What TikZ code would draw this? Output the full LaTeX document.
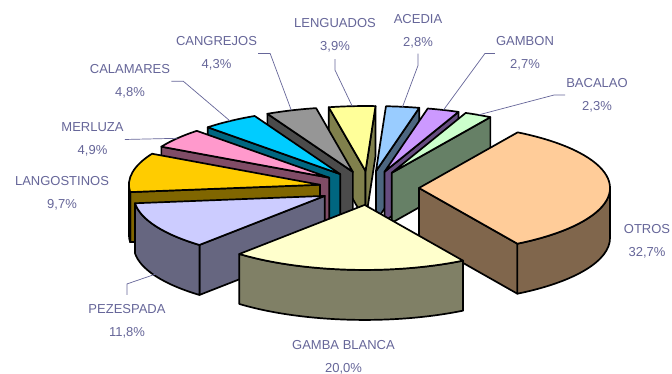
\documentclass[tikz,border=0pt]{standalone}
\usepackage{fontspec}
\setmainfont{Liberation Sans}
\definecolor{labelblue}{HTML}{666699}
\definecolor{acedia}{HTML}{99CCFF}
\definecolor{gambon}{HTML}{CC99FF}
\definecolor{bacalao}{HTML}{CCFFCC}
\definecolor{otros}{HTML}{FFCC99}
\definecolor{gamba}{HTML}{FFFFCC}
\definecolor{pezespada}{HTML}{CCCCFF}
\definecolor{langostinos}{HTML}{FFCC00}
\definecolor{merluza}{HTML}{FF99CC}
\definecolor{calamares}{HTML}{00CCFF}
\definecolor{cangrejos}{HTML}{969696}
\definecolor{lenguados}{HTML}{FFFF99}
\tikzset{face/.style={draw=black, line width=1.7pt, line join=round}}
\tikzset{lbl/.style={font=\fontsize{13}{23}\selectfont, text=labelblue, align=center, inner sep=1pt}}
\tikzset{lead/.style={draw=labelblue, line width=0.7pt}}
% top of a slice, radial side face, outer rim face
\newcommand{\pietop}[3]{%
  \filldraw[face, fill=#3] (0,0) -- (#1:191 and 65)
    arc[start angle=#1, end angle=#2, x radius=191, y radius=65] -- cycle;}
\newcommand{\pieface}[2]{%
  \filldraw[face, fill=#2] (0,0) -- (#1:191 and 65) -- ++(0,-50) -- (0,-50) -- cycle;}
\newcommand{\pierim}[3]{%
  \filldraw[face, fill=#3] (#1:191 and 65)
    arc[start angle=#1, end angle=#2, x radius=191, y radius=65] -- ++(0,-50)
    arc[start angle=#2, end angle=#1, x radius=191, y radius=65] -- cycle;}

\begin{document}
\begin{tikzpicture}[x=1pt, y=1pt]
  \fill[white] (0,0) rectangle (672,374);
  \useasboundingbox (0,0) rectangle (672,374);
  \begin{scope}[shift={(369,186)}]
    % back slices first
    \begin{scope}[shift={(94:50 and 17)}]
      \pieface{101.1}{lenguados!50!black}
      \pieface{87}{lenguados!50!black}
      \pietop{101.1}{87}{lenguados}
      \coordinate (leng-p) at (94:191 and 65);
    \end{scope}
    \begin{scope}[shift={(82:50 and 17)}]
      \pieface{76.9}{acedia!50!black}
      \pietop{87}{76.9}{acedia}
      \coordinate (acedia-p) at (82:191 and 65);
    \end{scope}
    \begin{scope}[shift={(72:50 and 17)}]
      \pieface{67.2}{gambon!50!black}
      \pietop{76.9}{67.2}{gambon}
      \coordinate (gambon-p) at (72:191 and 65);
    \end{scope}
    \begin{scope}[shift={(108.8:50 and 17)}]
      \pieface{116.6}{cangrejos!50!black}
      \pietop{116.6}{101.1}{cangrejos}
      \coordinate (cang-p) at (108.8:191 and 65);
    \end{scope}
    \begin{scope}[shift={(63:50 and 17)}]
      \pieface{58.9}{bacalao!50!black}
      \pietop{67.2}{58.9}{bacalao}
      \coordinate (bacalao-p) at (63:191 and 65);
    \end{scope}
    \begin{scope}[shift={(125.2:50 and 17)}]
      \pieface{133.9}{calamares!50!black}
      \pietop{133.9}{116.6}{calamares}
      \coordinate (calam-p) at (125.2:191 and 65);
    \end{scope}
    \begin{scope}[shift={(142.7:50 and 17)}]
      \pieface{151.5}{merluza!50!black}
      \pietop{151.5}{133.9}{merluza}
      \coordinate (merl-p) at (142.7:191 and 65);
    \end{scope}
    \begin{scope}[shift={(169:50 and 17)}]
      \pieface{186.5}{langostinos!50!black}
      \pierim{186.5}{180}{langostinos!50!black}
      \pietop{186.5}{151.5}{langostinos}
    \end{scope}
    % front slices
    \begin{scope}[shift={(0:50 and 17)}]
      \pieface{-59}{otros!50!black}
      \pierim{0}{-59}{otros!50!black}
      \pietop{58.9}{-59}{otros}
    \end{scope}
    \begin{scope}[shift={(-152.3:50 and 17)}]
      \pieface{-131}{pezespada!50!black}
      \pierim{-131}{-173.5}{pezespada!50!black}
      \pietop{-131}{-173.5}{pezespada}
      \path (-152.3:191 and 65) ++(0,-48) coordinate (pez-p);
    \end{scope}
    \begin{scope}[shift={(-95:50 and 17)}]
      \pierim{-59}{-131}{gamba!50!black}
      \pietop{-59}{-131}{gamba}
    \end{scope}
  \end{scope}

  \node[lbl] (lenguados) at (335,339) {LENGUADOS\\3,9\%};
  \node[lbl] (acedia) at (418,342.5) {ACEDIA\\2,8\%};
  \node[lbl] (gambon) at (525,320.5) {GAMBON\\2,7\%};
  \node[lbl] (bacalao) at (597,279) {BACALAO\\2,3\%};
  \node[lbl] (cangrejos) at (216.5,320.5) {CANGREJOS\\4,3\%};
  \node[lbl] (calamares) at (130,292.75) {CALAMARES\\4,8\%};
  \node[lbl] (merluza) at (92.5,234.5) {MERLUZA\\4,9\%};
  \node[lbl] (langostinos) at (62,180.75) {LANGOSTINOS\\9,7\%};
  \node[lbl] (pezespada) at (127,53) {PEZESPADA\\11,8\%};
  \node[lbl] (gamba) at (343.5,17) {GAMBA BLANCA\\20,0\%};
  \node[lbl] (otros) at (647,133) {OTROS\\32,7\%};

  \draw[lead] ([yshift=-6pt]lenguados.south) -- ++(0,-11) -- (leng-p);
  \draw[lead] ([yshift=-4pt]acedia.south) -- ++(0,-12) -- (acedia-p);
  \draw[lead] (gambon.west) -- ++(-10,0) -- (gambon-p);
  \draw[lead] (bacalao.west) -- ++(-11,0) -- (bacalao-p);
  \draw[lead] (cangrejos.east) -- ++(12,0) -- (cang-p);
  \draw[lead] (calamares.east) -- ++(12,0) -- (calam-p);
  \draw[lead] (merluza.east) -- (merl-p);
  \draw[lead] ([yshift=8pt]pezespada.north) -- ++(0,11) -- (pez-p);
\end{tikzpicture}
\end{document}
